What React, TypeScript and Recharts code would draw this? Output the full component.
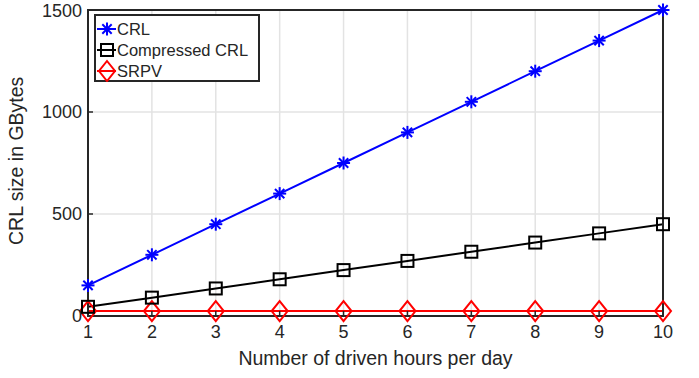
import React from 'react';
import { LineChart, Line, XAxis, YAxis, CartesianGrid, Legend, ReferenceArea } from 'recharts';

const hours = [1, 2, 3, 4, 5, 6, 7, 8, 9, 10];
const crl = [150, 300, 450, 600, 750, 900, 1050, 1200, 1350, 1500];
const compressed = [45, 90, 135, 180, 225, 270, 315, 360, 405, 450];
const srpv = [24, 24, 24, 24, 24, 24, 24, 24, 24, 24];
const yTicks = [0, 500, 1000, 1500];

const data = hours.map((h, i) => ({ h, crl: crl[i], compressed: compressed[i], srpv: srpv[i] }));

const FONT = 'Liberation Sans, Arial, sans-serif';
const TXT = '#262626';
const AX = '#262626';

const Star = (props: any) => {
  const { cx, cy } = props;
  if (cx == null || cy == null) return null;
  const r = 6.5;
  const d = r * 0.72;
  return (
    <g stroke="#0000ff" strokeWidth={2}>
      <line x1={cx - r} y1={cy} x2={cx + r} y2={cy} />
      <line x1={cx} y1={cy - r} x2={cx} y2={cy + r} />
      <line x1={cx - d} y1={cy - d} x2={cx + d} y2={cy + d} />
      <line x1={cx - d} y1={cy + d} x2={cx + d} y2={cy - d} />
    </g>
  );
};

const Square = (props: any) => {
  const { cx, cy } = props;
  if (cx == null || cy == null) return null;
  const s = 6;
  return <rect x={cx - s} y={cy - s} width={2 * s} height={2 * s} fill="none" stroke="#000" strokeWidth={2} />;
};

const Diamond = (props: any) => {
  const { cx, cy } = props;
  if (cx == null || cy == null) return null;
  const w = 8, h = 10;
  return (
    <path d={`M${cx},${cy - h}L${cx + w},${cy}L${cx},${cy + h}L${cx - w},${cy}Z`} fill="none" stroke="#ff0000" strokeWidth={2} />
  );
};

const LegendBox = () => {
  const items = [
    { label: 'CRL', color: '#0000ff', M: Star },
    { label: 'Compressed CRL', color: '#000', M: Square },
    { label: 'SRPV', color: '#ff0000', M: Diamond },
  ];
  return (
    <svg width={166} height={68} style={{ display: 'block' }}>
      <rect x={1} y={1} width={164} height={66} fill="#fff" stroke={AX} strokeWidth={2} />
      {items.map((it, i) => {
        const cy = 15 + i * 21;
        const M = it.M;
        return (
          <g key={it.label}>
            <line x1={3} x2={22} y1={cy} y2={cy} stroke={it.color} strokeWidth={2} />
            <M cx={13} cy={cy} />
            <text x={23} y={cy + 6} fontSize={16.5} fontFamily={FONT} fill={TXT}>{it.label}</text>
          </g>
        );
      })}
    </svg>
  );
};

export default function App() {
  return (
    <div style={{ position: 'absolute', left: 0, top: 0, background: '#fff' }}>
      <LineChart width={699} height={378} data={data} margin={{ top: 9, right: 35, left: 0, bottom: 0 }}>
        <CartesianGrid stroke="#e3e3e3" strokeWidth={1.5} horizontalValues={[500, 1000]} verticalValues={[2, 3, 4, 5, 6, 7, 8, 9]} />
        <XAxis
          dataKey="h"
          type="number"
          domain={[1, 10]}
          ticks={hours}
          height={62}
          axisLine={{ stroke: AX, strokeWidth: 2 }}
          tickLine={{ stroke: AX, strokeWidth: 1.5 }}
          tickSize={-5}
          tickMargin={14}
          tick={{ fontSize: 18, fontFamily: FONT, fill: TXT }}
          label={{ value: 'Number of driven hours per day', position: 'insideBottom', offset: 13, fontSize: 19.5, fontFamily: FONT, fill: TXT }}
        />
        <XAxis
          xAxisId="top"
          dataKey="h"
          type="number"
          orientation="top"
          domain={[1, 10]}
          ticks={hours}
          height={1}
          axisLine={{ stroke: AX, strokeWidth: 2 }}
          tickLine={{ stroke: AX, strokeWidth: 1.5 }}
          tickSize={-5}
          tick={false}
        />
        <YAxis
          type="number"
          domain={[0, 1500]}
          ticks={yTicks}
          width={88}
          axisLine={{ stroke: AX, strokeWidth: 2 }}
          tickLine={{ stroke: AX, strokeWidth: 1.5 }}
          tickSize={-5}
          tickMargin={11}
          tick={{ fontSize: 18, fontFamily: FONT, fill: TXT }}
          label={{ value: 'CRL size in GBytes', angle: -90, position: 'insideLeft', offset: 16, dy: 82, fontSize: 19.5, fontFamily: FONT, fill: TXT }}
        />
        <YAxis
          yAxisId="right"
          type="number"
          orientation="right"
          domain={[0, 1500]}
          ticks={yTicks}
          width={1}
          axisLine={{ stroke: AX, strokeWidth: 2 }}
          tickLine={{ stroke: AX, strokeWidth: 1.5 }}
          tickSize={-5}
          tick={false}
        />
        <ReferenceArea x1={1} x2={10} y1={0} y2={1500} fill="none" fillOpacity={0} stroke={AX} strokeWidth={2} ifOverflow="visible" />
        <Legend
          layout="vertical"
          verticalAlign="middle"
          align="center"
          content={() => <LegendBox />}
          wrapperStyle={{ position: 'absolute', left: 94, top: 14, width: 166, height: 68 }}
        />
        <Line dataKey="srpv" stroke="#ff0000" strokeWidth={2} dot={<Diamond />} isAnimationActive={false} />
        <Line dataKey="compressed" stroke="#000000" strokeWidth={2} dot={<Square />} isAnimationActive={false} />
        <Line dataKey="crl" stroke="#0000ff" strokeWidth={2} dot={<Star />} isAnimationActive={false} />
      </LineChart>
    </div>
  );
}
